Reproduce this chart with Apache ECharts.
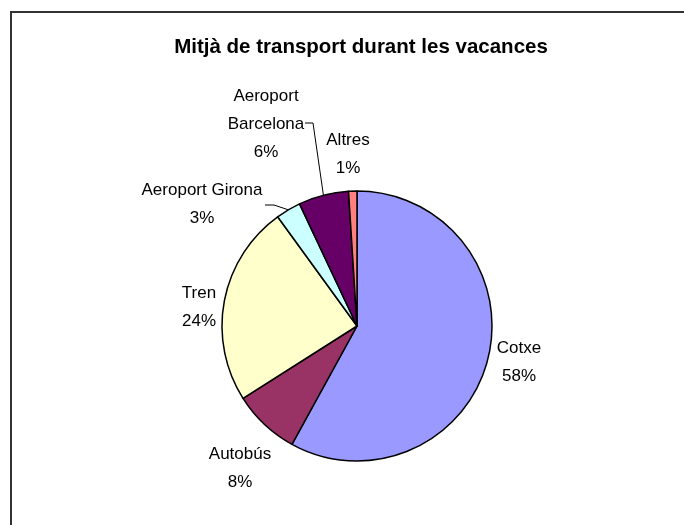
<!DOCTYPE html>
<html>
<head>
<meta charset="utf-8">
<style>
  html, body { margin: 0; padding: 0; background: #ffffff; }
  #chart { width: 684px; height: 525px; }
</style>
<script src="https://cdn.jsdelivr.net/npm/echarts@6/dist/echarts.min.js"></script>
</head>
<body>
<div id="chart"></div>
<script>
// Transport used during the holidays (share of respondents, %)
const categories = ['Cotxe', 'Autobús', 'Tren', 'Aeroport Girona', 'Aeroport Barcelona', 'Altres'];
const values = [58, 8, 24, 3, 6, 1];
const colors = ['#9999FF', '#993366', '#FFFFCC', '#CCFFFF', '#660066', '#FF8080'];

// Label placement (centre of each label block) and leader-line bends
const labelPos = {
  'Cotxe': [519, 362],
  'Autobús': [240, 468],
  'Tren': [199, 307],
  'Aeroport Girona': [202, 204],
  'Aeroport Barcelona': [266, 124],
  'Altres': [348, 154]
};
const leaderBends = {
  'Aeroport Girona': [[274, 205], [265, 205]],
  'Aeroport Barcelona': [[313, 123], [305, 123]]
};

const FONT = '"Liberation Sans", Arial, sans-serif';

const chart = echarts.init(document.getElementById('chart'), null, { renderer: 'canvas' });

const data = categories.map((name, i) => ({
  name: name,
  value: values[i],
  itemStyle: { color: colors[i] },
  labelLine: { show: !!leaderBends[name] }
}));

chart.setOption({
  backgroundColor: '#ffffff',
  animation: false,
  graphic: [{
    type: 'rect',
    shape: { x: 11, y: 12, width: 720, height: 560 },
    style: { fill: 'none', stroke: '#333333', lineWidth: 2 },
    silent: true,
    z: 0
  }],
  title: {
    text: 'Mitjà de transport durant les vacances',
    left: 356,
    top: 32,
    textAlign: 'center',
    textStyle: {
      fontFamily: FONT,
      fontWeight: 'bold',
      fontSize: 20.5,
      color: '#000000'
    }
  },
  series: [{
    type: 'pie',
    center: [357, 326],
    radius: 135,
    startAngle: 90,
    clockwise: true,
    data: data,
    itemStyle: { borderColor: '#000000', borderWidth: 1.5 },
    emphasis: { disabled: true },
    label: {
      show: true,
      position: 'outside',
      fontFamily: FONT,
      fontSize: 17,
      lineHeight: 28,
      color: '#000000',
      align: 'center',
      formatter: function (p) {
        const name = p.name.length > 16 ? p.name.replace(' ', '\n') : p.name;
        return name + '\n' + Math.round(p.percent) + '%';
      }
    },
    labelLine: {
      show: false,
      smooth: false,
      lineStyle: { color: '#000000', width: 1 }
    },
    labelLayout: function (params) {
      const name = categories[params.dataIndex];
      const pos = labelPos[name];
      const out = { x: pos[0], y: pos[1], align: 'center', verticalAlign: 'middle' };
      const bends = leaderBends[name];
      if (bends && params.labelLinePoints) {
        out.labelLinePoints = [params.labelLinePoints[0], bends[0], bends[1]];
      }
      return out;
    }
  }]
});
</script>
</body>
</html>
